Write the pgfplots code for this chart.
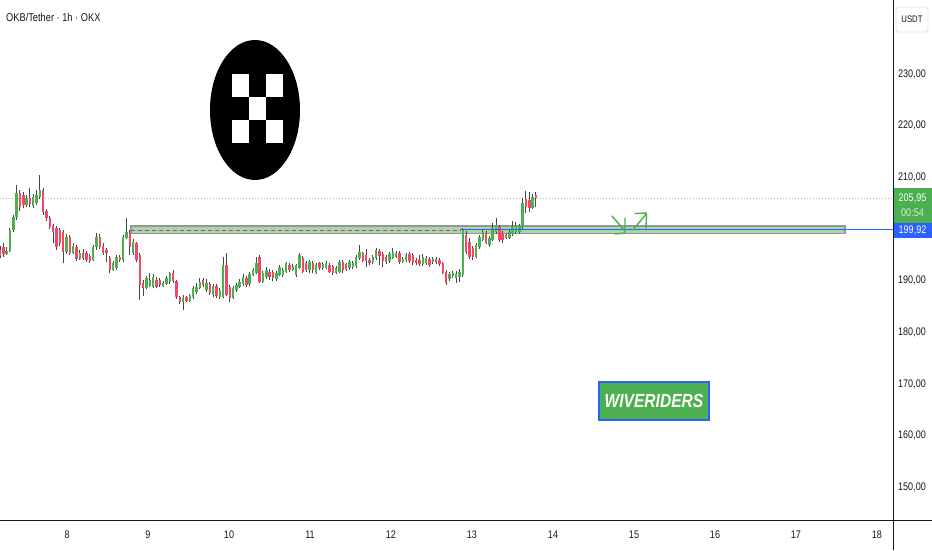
\documentclass[border=0pt]{standalone}
\usepackage{fontspec}
\setmainfont{Liberation Sans}[FakeStretch=0.82]
\usepackage{pgfplots}
\usepackage{pgfplotstable}
\pgfplotsset{compat=1.18}
\definecolor{cgreen}{RGB}{76,175,80}
\definecolor{cred}{RGB}{242,72,100}
\definecolor{cwick}{RGB}{70,70,70}
\definecolor{pricelineblue}{RGB}{41,98,255}
\definecolor{czone}{RGB}{168,214,165}
\definecolor{cborder}{RGB}{150,150,150}
\definecolor{cpink}{RGB}{186,60,180}
\definecolor{cdot}{RGB}{140,205,140}
\definecolor{ctext}{RGB}{19,23,34}
\definecolor{cgrid}{RGB}{224,227,235}
\pgfplotstableread{
x o h l c
0 195.9 196.7 194.4 194.8
1 196.5 197.2 194.5 195.2
2 195.2 196.5 194.9 195.8
3 195.8 200.2 195.5 199.8
4 199.8 202.8 199.4 202.3
5 202.3 208.5 201.8 207.0
6 207.0 207.6 203.5 204.3
7 206.5 207.2 204.0 204.7
8 204.7 206.5 204.3 206.0
9 206.0 207.9 204.2 204.8
10 204.5 206.8 204.0 206.2
11 205.0 207.5 204.6 206.6
12 206.2 210.4 205.8 207.5
13 207.5 207.9 202.8 203.3
14 203.5 203.8 201.6 202.1
15 202.1 202.5 200.0 200.4
16 200.6 201.0 197.3 199.4
17 200.2 200.6 196.0 196.5
18 199.8 200.2 196.8 197.3
19 199.4 199.8 193.4 195.6
20 195.6 199.0 195.2 198.5
21 198.5 198.8 195.0 195.4
22 195.4 197.2 195.1 196.7
23 196.5 196.9 193.9 194.2
24 194.2 195.9 194.0 195.4
25 195.4 196.2 194.0 194.4
26 195.4 195.8 193.7 194.0
27 194.8 195.2 193.5 193.8
28 194.0 196.9 193.8 196.5
29 196.5 199.2 196.0 198.4
30 198.4 199.0 196.2 196.5
31 196.8 197.2 195.0 195.3
32 195.9 196.3 193.6 195.3
33 194.4 194.8 191.5 192.1
34 192.1 193.8 191.8 193.4
35 192.4 195.0 192.1 194.6
36 194.6 195.0 193.6 194.0
37 194.0 198.8 193.7 198.4
38 198.3 202.1 198.0 199.4
39 199.2 199.8 195.0 196.5
40 195.4 198.0 195.0 197.5
41 197.3 197.5 193.6 194.0
42 195.0 195.4 186.3 189.2
43 189.6 190.1 187.0 188.6
44 188.6 191.0 188.3 190.5
45 189.0 191.5 188.8 190.1
46 188.8 191.3 188.5 190.7
47 190.1 190.8 188.5 188.8
48 190.1 190.5 188.8 189.2
49 189.0 189.9 188.8 189.6
50 189.4 190.9 189.2 190.5
51 189.7 191.7 189.4 191.5
52 191.5 192.0 189.6 189.9
53 189.9 190.1 186.5 186.8
54 186.8 187.0 185.5 185.9
55 185.9 187.2 184.3 186.6
56 186.8 187.1 185.8 186.1
57 186.1 187.5 185.9 187.2
58 186.9 189.0 186.5 188.6
59 187.8 189.6 187.5 188.8
60 188.6 190.5 188.3 189.8
61 190.1 190.5 188.8 189.2
62 188.2 190.3 187.9 189.5
63 189.3 189.7 187.2 187.6
64 187.2 189.4 186.9 188.9
65 188.9 189.3 186.6 187.0
66 186.9 188.5 186.5 188.0
67 186.9 194.6 186.6 193.0
68 193.0 195.4 187.0 187.3
69 188.8 189.2 185.9 186.6
70 186.7 189.0 186.4 188.6
71 188.2 189.6 187.8 189.2
72 188.8 190.3 188.5 189.8
73 189.4 191.2 189.0 190.7
74 190.5 190.9 188.8 189.2
75 189.4 191.7 189.0 191.3
76 191.1 192.4 190.9 192.1
77 191.5 194.6 191.2 193.4
78 194.6 194.9 189.5 189.8
79 189.8 191.9 189.5 191.5
80 190.7 192.7 190.4 192.1
81 191.7 192.3 190.1 190.7
82 191.7 192.1 189.9 190.5
83 190.3 191.9 190.0 191.5
84 191.1 193.0 190.9 192.6
85 191.1 192.4 190.8 192.1
86 191.7 193.6 191.4 193.4
87 193.0 193.4 191.7 192.1
88 192.1 193.2 191.8 192.8
89 191.1 193.2 190.8 193.0
90 192.5 195.3 192.2 195.0
91 194.4 194.7 191.4 191.7
92 193.4 193.8 191.7 192.1
93 192.0 194.0 191.5 193.6
94 193.4 193.8 191.5 192.1
95 191.5 193.4 191.2 193.0
96 193.4 193.6 192.1 192.5
97 192.4 193.6 192.1 193.2
98 192.5 193.8 192.2 193.4
99 193.0 193.4 191.4 191.7
100 192.8 193.1 191.1 191.4
101 191.5 192.8 191.2 192.5
102 191.7 194.0 191.4 193.6
103 193.6 194.0 191.4 192.1
104 193.2 193.5 191.9 192.2
105 192.4 194.0 192.1 193.6
106 192.6 193.9 192.3 193.4
107 192.8 194.9 192.5 194.6
108 194.4 196.9 194.0 195.5
109 195.3 195.6 193.6 193.9
110 195.0 196.2 192.6 193.8
111 194.0 194.3 193.0 193.4
112 193.6 194.9 193.3 194.5
113 194.4 196.3 194.0 195.9
114 195.8 196.2 193.0 194.8
115 195.2 195.6 192.6 193.8
116 194.6 195.0 193.2 193.6
117 193.8 195.6 193.5 195.2
118 194.4 196.3 194.1 195.5
119 194.6 195.7 194.3 195.3
120 195.3 195.7 193.3 193.6
121 193.6 194.5 193.4 194.2
122 194.0 195.3 193.7 195.0
123 195.2 195.6 193.5 193.8
124 195.0 195.3 193.0 193.6
125 194.0 194.3 193.1 193.4
126 194.0 194.9 192.9 193.2
127 193.2 195.2 192.9 194.6
128 193.4 194.8 193.0 194.4
129 194.2 194.6 192.7 193.0
130 193.6 194.5 193.3 194.2
131 194.2 194.5 193.3 193.6
132 194.0 194.3 192.9 193.2
133 193.4 193.7 191.2 191.5
134 191.7 192.0 189.2 189.6
135 190.3 191.7 190.0 191.3
136 190.9 191.8 190.6 191.5
137 190.5 191.8 189.6 191.3
138 190.7 192.2 189.8 191.7
139 191.1 200.2 190.8 199.8
140 198.8 199.6 195.2 195.6
141 197.5 198.3 194.2 194.6
142 196.3 196.7 194.0 194.6
143 194.6 197.2 194.3 196.9
144 196.5 198.8 196.2 198.4
145 197.9 199.8 197.6 199.4
146 199.2 199.6 197.0 197.3
147 196.9 198.6 196.6 198.3
148 197.9 201.2 197.6 200.2
149 199.4 202.1 199.0 200.8
150 200.4 200.8 197.5 197.9
151 199.2 199.6 197.3 197.9
152 198.8 199.2 198.0 198.3
153 198.3 199.8 198.0 199.4
154 199.0 201.5 198.7 200.6
155 199.4 201.4 199.0 200.8
156 199.4 201.0 199.0 200.6
157 200.4 206.0 200.0 205.0
158 205.8 207.3 203.1 204.3
159 205.6 207.2 203.3 204.1
160 204.1 206.8 203.8 206.2
161 206.5 207.1 204.3 205.95
}\candles
\begin{document}
\begin{tikzpicture}
\useasboundingbox (0pt,0pt) rectangle (932pt,550pt);
\fill[white] (0pt,0pt) rectangle (932pt,550pt);
\begin{axis}[
  at={(0pt,30pt)}, anchor=south west,
  width=893pt, height=520pt, scale only axis,
  xmin=0, xmax=268.25, ymin=143.71, ymax=244.29,
  axis line style={draw=none},
  major tick length=0pt,
  xtick={20.13,44.46,68.79,93.12,117.45,141.78,166.12,190.45,214.78,239.11,263.44},
  xticklabels={8,9,10,11,12,13,14,15,16,17,18},
  ytick={150,160,170,180,190,210,220,230},
  yticklabels={{150,00},{160,00},{170,00},{180,00},{190,00},{210,00},{220,00},{230,00}},
  yticklabel pos=right,
  xticklabel style={anchor=center, yshift=-15pt, font=\fontsize{11}{13}\selectfont, text=ctext},
  yticklabel style={anchor=center, xshift=19pt, font=\fontsize{11}{13}\selectfont, text=ctext},
  clip=true,
]
% zone
\draw[line width=1.5pt, draw=cborder, fill=czone] (axis cs:39.35,199.13) rectangle (axis cs:253.8,200.58);
\addplot[cpink, line width=1.2pt, dash pattern=on 4pt off 3pt, mark=none, forget plot] coordinates {(39.35,199.78) (138.2,199.78)};
\addplot[cdot, line width=1pt, dash pattern=on 1pt off 2pt, mark=none, forget plot] coordinates {(0,205.95) (268.25,205.95)};
% wicks
\addplot[draw=none, mark=none, forget plot,
  error bars/.cd, y dir=plus, y explicit, error mark=none,
  error bar style={draw=cwick, line width=1pt, solid}]
  table[x=x, y=l, y error plus expr={\thisrow{h}-\thisrow{l}}] {\candles};
% green bodies
\addplot[draw=none, mark=none, forget plot,
  error bars/.cd, y dir=plus, y explicit, error mark=none,
  error bar style={draw=cgreen, line width=2.4pt, solid}]
  table[x=x, y=o, y error plus expr={max(\thisrow{c}-\thisrow{o},0)}] {\candles};
% red bodies
\addplot[draw=none, mark=none, forget plot,
  error bars/.cd, y dir=plus, y explicit, error mark=none,
  error bar style={draw=cred, line width=2.4pt, solid}]
  table[x=x, y=c, y error plus expr={max(\thisrow{o}-\thisrow{c},0)}] {\candles};
\end{axis}
% price line 199,92 (drawn over candles)
\fill[pricelineblue] (460pt,319.7pt) rectangle (893pt,321.5pt);
% frame lines
\draw[ctext, line width=1pt] (0pt,30pt) -- (932pt,30pt);
\draw[ctext, line width=1pt] (893pt,0pt) -- (893pt,550pt);
% title
\node[anchor=west, inner sep=0pt, text=ctext, font=\fontsize{11.3}{13}\selectfont] at (6pt,533pt) {OKB/Tether · 1h · OKX};
% USDT box
\draw[cgrid, fill=white, rounded corners=3pt, line width=0.8pt] (896pt,518pt) rectangle (928pt,543pt);
\node[text=ctext, font=\fontsize{9.5}{11}\selectfont, inner sep=0pt] at (912pt,530.5pt) {USDT};
% logo
\fill[black] (255pt,440pt) ellipse [x radius=45pt, y radius=70pt];
\fill[white] (232pt,476pt) rectangle (249pt,453pt);
\fill[white] (266pt,476pt) rectangle (283pt,453pt);
\fill[white] (249pt,453pt) rectangle (266pt,430pt);
\fill[white] (232pt,430pt) rectangle (249pt,407pt);
\fill[white] (266pt,430pt) rectangle (283pt,407pt);
% arrows
\draw[cgreen, line width=1.4pt, line cap=round] (612pt,334pt) -- (625pt,319pt);
\draw[cgreen, line width=1.4pt, line cap=round] (625pt,332pt) -- (625pt,317pt) -- (615pt,316pt);
\draw[cgreen, line width=1.4pt, line cap=round] (633pt,320pt) -- (646pt,336pt);
\draw[cgreen, line width=1.4pt, line cap=round] (635pt,336.5pt) -- (646.5pt,337pt) -- (646pt,322pt);
% WIVERIDERS
\draw[pricelineblue, fill=cgreen, line width=1.5pt] (599pt,130pt) rectangle (709pt,168pt);
\node[text=white, font=\fontsize{19}{22}\selectfont\bfseries\itshape, inner sep=0pt] at (654pt,149pt) {WIVERIDERS};
% price labels
\fill[cgreen] (893.5pt,327.5pt) rectangle (932pt,362pt);
\node[text=white, font=\fontsize{11}{13}\selectfont, inner sep=0pt] at (912.5pt,352pt) {205,95};
\node[text=white!80!cgreen, font=\fontsize{11}{13}\selectfont, inner sep=0pt] at (912.5pt,337pt) {00:54};
\fill[pricelineblue] (893.5pt,312.5pt) rectangle (932pt,327.5pt);
\node[text=white, font=\fontsize{11}{13}\selectfont, inner sep=0pt] at (912.5pt,319.5pt) {199,92};
\end{tikzpicture}
\end{document}
